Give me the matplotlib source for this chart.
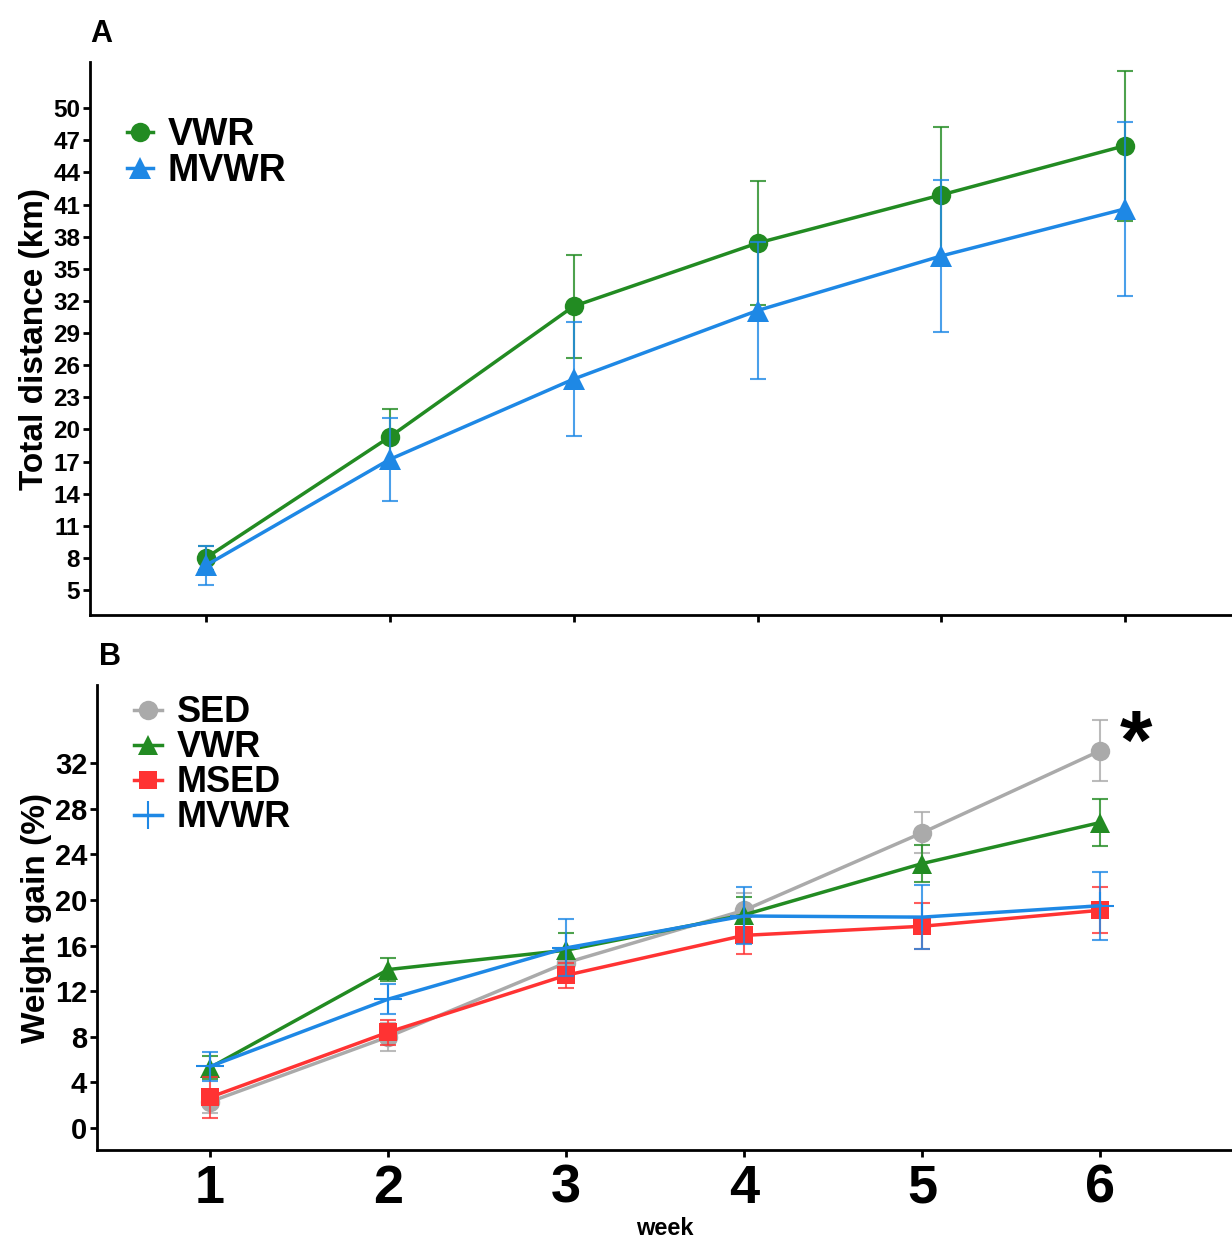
import matplotlib
matplotlib.use('Agg')
from matplotlib import pyplot as plt

plt.rcParams['font.family'] = ['Liberation Sans', 'DejaVu Sans']
plt.rcParams['font.weight'] = 'bold'

weeks = [1, 2, 3, 4, 5, 6]

# panel A: total distance (km), mean and SE
dist_vwr = [8.0, 19.3, 31.5, 37.4, 41.9, 46.5]
dist_vwr_se = [1.1, 2.6, 4.8, 5.8, 6.3, 7.0]
dist_mvwr = [7.3, 17.2, 24.7, 31.1, 36.2, 40.6]
dist_mvwr_se = [1.8, 3.9, 5.3, 6.4, 7.1, 8.1]

# panel B: weight gain (%), mean and SE
wg_sed = [2.3, 8.0, 14.5, 19.1, 25.9, 33.1]
wg_sed_se = [1.0, 1.2, 1.3, 1.5, 1.8, 2.7]
wg_vwr = [5.3, 13.9, 15.6, 18.7, 23.2, 26.8]
wg_vwr_se = [1.0, 1.0, 1.5, 1.6, 1.6, 2.1]
wg_msed = [2.7, 8.4, 13.4, 16.9, 17.7, 19.1]
wg_msed_se = [1.8, 1.1, 1.1, 1.6, 2.0, 2.0]
wg_mvwr = [5.4, 11.3, 15.8, 18.6, 18.5, 19.5]
wg_mvwr_se = [1.3, 1.3, 2.5, 2.5, 2.8, 3.0]

green = '#228B22'
blue = '#1E88E5'
red = '#FF3333'
gray = '#AAAAAA'

fig = plt.figure(figsize=(12.32, 12.41), dpi=100)


def style_axes(ax):
    for side in ['top', 'right']:
        ax.spines[side].set_visible(False)
    for side in ['left', 'bottom']:
        ax.spines[side].set_linewidth(2)
    ax.tick_params(direction='out', length=5, width=2)


def series(ax, y, se, color, marker, ms, label, mew=0):
    ax.errorbar(weeks, y, yerr=se, color=color, lw=1.5, capsize=6, capthick=1.5,
                fmt='none', alpha=0.8)
    ax.plot(weeks, y, color=color, lw=2.5, marker=marker, ms=ms, mew=mew,
            mec=color, label=label)


# ---- panel A
ax1 = fig.add_axes([0.073, 0.5044, 0.927, 0.4456])
style_axes(ax1)
series(ax1, dist_vwr, dist_vwr_se, green, 'o', 14, 'VWR')
series(ax1, dist_mvwr, dist_mvwr_se, blue, '^', 16, 'MVWR')
ax1.set_xlim(0.37, 6.58)
ax1.set_ylim(2.67, 54.3)
ax1.set_xticks(weeks)
ax1.set_xticklabels([])
ax1.set_yticks(range(5, 51, 3))
ax1.tick_params(axis='y', labelsize=17.5, pad=2)
ax1.set_ylabel('Total distance (km)', fontsize=24, fontweight='bold', labelpad=2)
ax1.legend(loc='upper left', bbox_to_anchor=(0.019, 0.928), frameon=False,
           fontsize=27, handlelength=0.7, handletextpad=0.4, labelspacing=0.0,
           borderaxespad=0)
fig.text(0.073, 0.966, 'A', fontsize=22, fontweight='bold')

# ---- panel B
ax2 = fig.add_axes([0.0787, 0.0733, 0.9213, 0.3747])
style_axes(ax2)
series(ax2, wg_sed, wg_sed_se, gray, 'o', 14, 'SED')
series(ax2, wg_vwr, wg_vwr_se, green, '^', 14, 'VWR')
series(ax2, wg_msed, wg_msed_se, red, 's', 13, 'MSED')
series(ax2, wg_mvwr, wg_mvwr_se, blue, '+', 20, 'MVWR', mew=1.5)
ax2.set_xlim(0.365, 6.74)
ax2.set_ylim(-1.93, 38.86)
ax2.set_xticks(weeks)
ax2.set_yticks(range(0, 33, 4))
ax2.tick_params(axis='y', labelsize=21, pad=2)
ax2.tick_params(axis='x', labelsize=39, pad=5)
ax2.set_ylabel('Weight gain (%)', fontsize=24, fontweight='bold', labelpad=2)
ax2.set_xlabel('week', fontsize=17, fontweight='bold', labelpad=2)
ax2.legend(loc='upper left', bbox_to_anchor=(0.020, 1.009), frameon=False,
           fontsize=26, handlelength=0.78, handletextpad=0.4, labelspacing=0.0,
           borderaxespad=0)
ax2.text(6.2, 33.4, '*', fontsize=60, fontweight='bold',
         ha='center', va='center')
fig.text(0.08, 0.464, 'B', fontsize=22, fontweight='bold')

fig.savefig('out.png', dpi=100)
